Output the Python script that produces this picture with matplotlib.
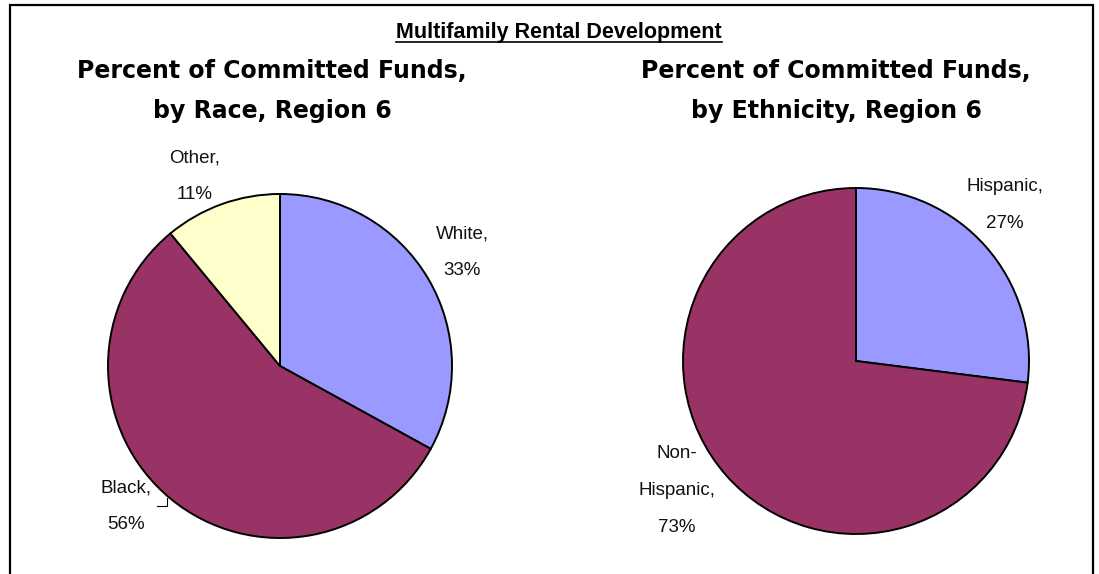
import matplotlib.pyplot as plt
from matplotlib import font_manager as fm
from matplotlib.patches import Rectangle

# data
race_labels = ["White", "Black", "Other"]
race_values = [33, 56, 11]
race_colors = ["#9999FF", "#993366", "#FFFFCC"]

eth_labels = ["Hispanic", "Non-Hispanic"]
eth_values = [27, 73]
eth_colors = ["#9999FF", "#993366"]

main_title = "Multifamily Rental Development"
race_title = "Percent of Committed Funds,\nby Race, Region 6"
eth_title = "Percent of Committed Funds,\nby Ethnicity, Region 6"

W, H = 1099, 574

# narrow font if there is one, else plain Liberation Sans a bit smaller
names = {f.name for f in fm.fontManager.ttflist}
if "Liberation Sans Narrow" in names:
    lab_font, lab_size, top_size = "Liberation Sans Narrow", 16, 18
else:
    lab_font, lab_size, top_size = "Liberation Sans", 13.5, 15.5

fig = plt.figure(figsize=(W / 100, H / 100), dpi=100)
ax = fig.add_axes([0, 0, 1, 1])
renderer = fig.canvas.get_renderer()


def py(y):
    # pixel row (from top) -> data y
    return H - y


def spacing(step, **kw):
    # linespacing that gives roughly a line step of `step` pixels
    prop = fm.FontProperties(**kw)
    w, h, d = renderer.get_text_width_height_descent("lp", prop, ismath=False)
    return 0.91 * step / (h - d)


wp = dict(edgecolor="black", linewidth=1.4)
ax.pie(race_values, colors=race_colors, startangle=90, counterclock=False,
       center=(280, py(366)), radius=172, wedgeprops=wp)
ax.pie(eth_values, colors=eth_colors, startangle=90, counterclock=False,
       center=(856, py(361)), radius=173, wedgeprops=wp)

ax.set_xlim(0, W)
ax.set_ylim(0, H)
ax.set_aspect("equal")
ax.axis("off")

lab_ls = spacing(36, family=lab_font, size=lab_size)


def label(txt, val, x, y):
    s = txt.replace("Non-", "Non-\n") + ",\n" + str(val) + "%"
    ax.text(x, py(y), s, ha="center", va="baseline", family=lab_font,
            fontsize=lab_size, linespacing=lab_ls, color="#111111")


# (x centre, baseline of last line)
race_pos = [(462, 275), (126, 529), (195, 199)]
for t, v, (x, y) in zip(race_labels, race_values, race_pos):
    label(t, v, x, y)

eth_pos = [(1005, 228), (677, 532)]
for t, v, (x, y) in zip(eth_labels, eth_values, eth_pos):
    label(t, v, x, y)

# leader line for Black
ax.plot([157, 167, 167], [py(506), py(506), py(498)], color="black", lw=0.8)

# titles
ttl_ls = spacing(38, family="DejaVu Sans", size=17, weight="bold")
ax.text(272, py(118), race_title, ha="center", va="baseline",
        fontsize=17, fontweight="bold", linespacing=ttl_ls)
ax.text(836, py(118), eth_title, ha="center", va="baseline",
        fontsize=17, fontweight="bold", linespacing=ttl_ls)

t = ax.text(559, py(38), main_title, ha="center", va="baseline",
            family=lab_font, fontsize=top_size, fontweight="bold")
fig.canvas.draw()
bb = t.get_window_extent().transformed(ax.transData.inverted())
ax.plot([bb.x0, bb.x1], [py(42), py(42)], color="black", lw=1.2)

# outer border
ax.add_patch(Rectangle((10, -20), 1083, py(4.5) + 20, fill=False,
                       edgecolor="black", lw=1.6, clip_on=False))

fig.savefig("out.png", dpi=100)
